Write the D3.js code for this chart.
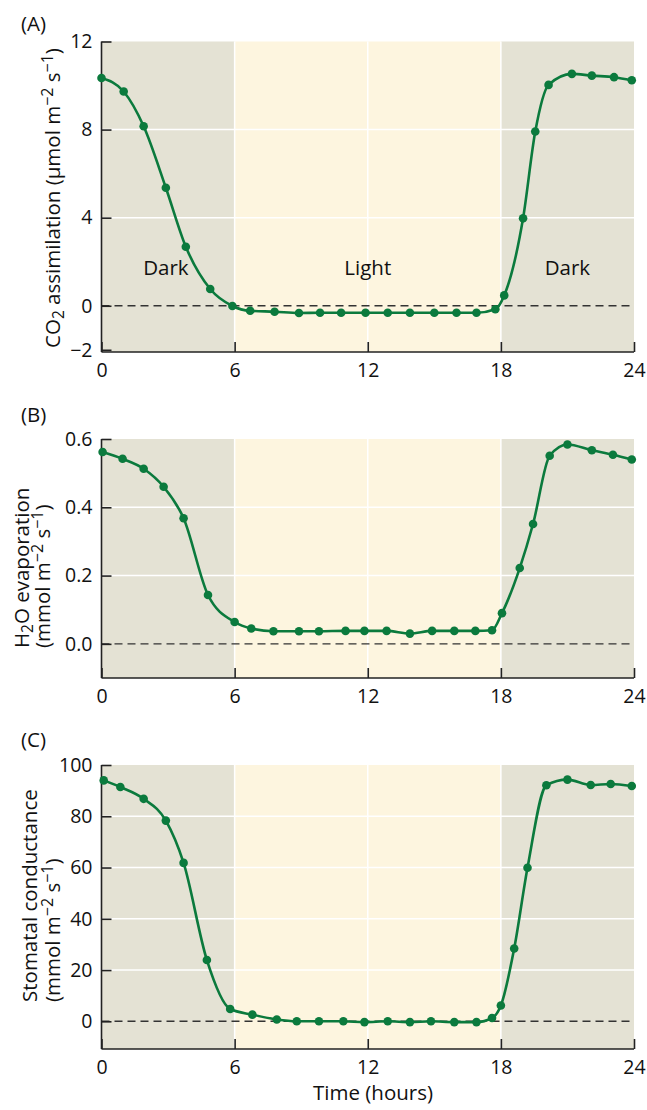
<!DOCTYPE html>
<html>
<head>
<meta charset="utf-8">
<script src="https://cdn.jsdelivr.net/npm/d3@7"></script>
<style>
  body { margin: 0; background: #fff; }
  svg { display: block; font-family: "Open Sans", "Noto Sans", sans-serif; }
</style>
</head>
<body>
<svg id="chart" width="647" height="1110"></svg>
<script>
const hoursA = [0, 1, 1.9, 2.9, 3.8, 4.9, 5.9, 6.7, 7.8, 8.9, 9.85, 10.8, 11.9, 12.9, 13.9, 15, 16, 16.9, 17.75, 18.15, 19, 19.55, 20.15, 21.2, 22.1, 23.1, 23.9];
const co2 = [10.34, 9.73, 8.15, 5.36, 2.68, 0.76, -0.01, -0.23, -0.27, -0.33, -0.32, -0.32, -0.32, -0.32, -0.32, -0.32, -0.32, -0.32, -0.16, 0.47, 3.97, 7.91, 10.03, 10.53, 10.45, 10.38, 10.24];

const hoursB = [0.05, 0.95, 1.9, 2.8, 3.7, 4.8, 6, 6.75, 7.75, 8.9, 9.8, 11, 11.85, 12.85, 13.9, 14.9, 15.9, 16.85, 17.6, 18.05, 18.85, 19.45, 20.2, 21, 22.1, 23.05, 23.9];
const h2o = [0.562, 0.542, 0.513, 0.46, 0.368, 0.143, 0.064, 0.045, 0.037, 0.037, 0.037, 0.038, 0.038, 0.038, 0.03, 0.038, 0.038, 0.038, 0.04, 0.09, 0.222, 0.351, 0.551, 0.584, 0.567, 0.554, 0.54];

const hoursC = [0.1, 0.85, 1.9, 2.9, 3.7, 4.75, 5.8, 6.8, 7.9, 8.8, 9.8, 10.9, 11.85, 12.9, 13.9, 14.85, 15.9, 16.9, 17.6, 18, 18.6, 19.2, 20.05, 21, 22.05, 22.95, 23.9];
const gs = [94, 91.4, 86.8, 78.3, 61.8, 23.9, 4.8, 2.6, 0.7, 0, 0, 0, -0.3, 0, -0.3, 0, -0.3, -0.3, 1.3, 6.2, 28.4, 59.9, 92.1, 94.3, 92.2, 92.6, 91.8];

const xTicks = [0, 6, 12, 18, 24];
const ticksA = [-2, 0, 4, 8, 12];
const ticksB = [0, 0.2, 0.4, 0.6];
const ticksC = [0, 20, 40, 60, 80, 100];

const svg = d3.select("#chart");
const left = 101.5, right = 634;
const green = "#0b7a3d";
const fs = 20.5, tickFs = 19.5;

const x = d3.scaleLinear().domain([0, 24]).range([left, right]);

function panel(opt) {
  const y = d3.scaleLinear().domain(opt.domain).range([opt.bottom, opt.top]);
  const g = svg.append("g");

  // dark / light / dark background
  g.append("rect").attr("x", x(0)).attr("y", opt.top).attr("width", x(6) - x(0)).attr("height", opt.bottom - opt.top).attr("fill", "#e4e2d4");
  g.append("rect").attr("x", x(6)).attr("y", opt.top).attr("width", x(18) - x(6)).attr("height", opt.bottom - opt.top).attr("fill", "#fdf5df");
  g.append("rect").attr("x", x(18)).attr("y", opt.top).attr("width", x(24) - x(18)).attr("height", opt.bottom - opt.top).attr("fill", "#e4e2d4");

  // white grid
  g.selectAll(".hg").data(opt.grid).enter().append("line")
    .attr("x1", x(0)).attr("x2", x(24))
    .attr("y1", d => y(d)).attr("y2", d => y(d))
    .attr("stroke", "#fff").attr("stroke-width", 1.5);
  g.selectAll(".vg").data([6, 12, 18]).enter().append("line")
    .attr("x1", d => x(d)).attr("x2", d => x(d))
    .attr("y1", opt.top).attr("y2", opt.bottom)
    .attr("stroke", "#fff").attr("stroke-width", 1.5);

  // zero line
  g.append("line")
    .attr("x1", x(0)).attr("x2", x(24))
    .attr("y1", y(0)).attr("y2", y(0))
    .attr("stroke", "#333").attr("stroke-width", 1.4)
    .attr("stroke-dasharray", "8,5");

  // axes
  const ya = g.append("g").attr("transform", `translate(${left},0)`)
    .call(d3.axisLeft(y).tickValues(opt.ticks).tickFormat(opt.fmt).tickSizeInner(-10).tickSizeOuter(0).tickPadding(9));
  const xa = g.append("g").attr("transform", `translate(0,${opt.bottom})`)
    .call(d3.axisBottom(x).tickValues(xTicks).tickSizeInner(-10).tickSizeOuter(0).tickPadding(11));
  [ya, xa].forEach(a => {
    a.selectAll("path, line").attr("stroke", "#222").attr("stroke-width", 1.6);
    a.selectAll("text").attr("font-size", tickFs).attr("fill", "#111").attr("font-family", "Open Sans, Noto Sans, sans-serif");
  });
  ya.select(".domain").attr("d", `M0,${opt.top}V${opt.bottom}`);
  xa.select(".domain").attr("d", `M${left},0H${right}`);

  // data
  const pts = opt.hours.map((h, i) => [h, opt.values[i]]);
  g.append("path").datum(pts)
    .attr("fill", "none").attr("stroke", green).attr("stroke-width", 2.6)
    .attr("d", d3.line().x(d => x(d[0])).y(d => y(d[1])).curve(d3.curveMonotoneX));
  g.selectAll(".pt").data(pts).enter().append("circle")
    .attr("cx", d => x(d[0])).attr("cy", d => y(d[1])).attr("r", 4.3).attr("fill", green);

  // panel letter
  svg.append("text").attr("x", 21).attr("y", opt.letterY).attr("font-size", fs).attr("fill", "#111").text(opt.letter);

  // y title
  opt.title(g, y);
  return y;
}

function sub(t, parts) {
  parts.forEach(p => {
    const s = t.append("tspan").text(p[0]);
    if (p[1] === "sub") s.attr("baseline-shift", "-25%").attr("font-size", "75%");
    if (p[1] === "sup") s.attr("baseline-shift", "45%").attr("font-size", "78%");
  });
}

panel({
  top: 41.5, bottom: 352, domain: [-2.1, 12], ticks: ticksA, grid: [4, 8],
  fmt: d => d < 0 ? "\u2212" + Math.abs(d) : d,
  hours: hoursA, values: co2, letter: "(A)", letterY: 31,
  title: (g, y) => {
    const t = g.append("text").attr("transform", "translate(60,198) rotate(-90)")
      .attr("text-anchor", "middle").attr("font-size", fs).attr("fill", "#111");
    sub(t, [["CO"], ["2", "sub"], [" assimilation (\u03bcmol m"], ["\u22122", "sup"], [" s"], ["\u22121", "sup"], [")"]]);
    g.append("text").attr("x", x(2.9)).attr("y", 275).attr("text-anchor", "middle").attr("font-size", fs).attr("fill", "#111").text("Dark");
    g.append("text").attr("x", x(12)).attr("y", 275).attr("text-anchor", "middle").attr("font-size", fs).attr("fill", "#111").text("Light");
    g.append("text").attr("x", x(21)).attr("y", 275).attr("text-anchor", "middle").attr("font-size", fs).attr("fill", "#111").text("Dark");
  }
});

panel({
  top: 439, bottom: 678, domain: [-0.1, 0.6], ticks: ticksB, grid: [0.2, 0.4],
  fmt: d3.format(".1f"),
  hours: hoursB, values: h2o, letter: "(B)", letterY: 422,
  title: (g, y) => {
    const t1 = g.append("text").attr("transform", "translate(28.5,648) rotate(-90)")
      .attr("font-size", fs).attr("fill", "#111");
    sub(t1, [["H"], ["2", "sub"], ["O evaporation"]]);
    const t2 = g.append("text").attr("transform", "translate(50,648) rotate(-90)")
      .attr("font-size", fs).attr("fill", "#111");
    sub(t2, [["(mmol m"], ["\u22122", "sup"], [" s"], ["\u22121", "sup"], [")"]]);
  }
});

panel({
  top: 765, bottom: 1049, domain: [-10.8, 100], ticks: ticksC, grid: [20, 40, 60, 80],
  fmt: d => d,
  hours: hoursC, values: gs, letter: "(C)", letterY: 747,
  title: (g, y) => {
    g.append("text").attr("transform", "translate(37,1002) rotate(-90)")
      .attr("font-size", fs).attr("fill", "#111").text("Stomatal conductance");
    const t2 = g.append("text").attr("transform", "translate(60,1002) rotate(-90)")
      .attr("font-size", fs).attr("fill", "#111");
    sub(t2, [["(mmol m"], ["\u22122", "sup"], [" s"], ["\u22121", "sup"], [")"]]);
  }
});

svg.append("text").attr("x", 373).attr("y", 1100).attr("text-anchor", "middle")
  .attr("font-size", fs).attr("fill", "#111").text("Time (hours)");
</script>
</body>
</html>
